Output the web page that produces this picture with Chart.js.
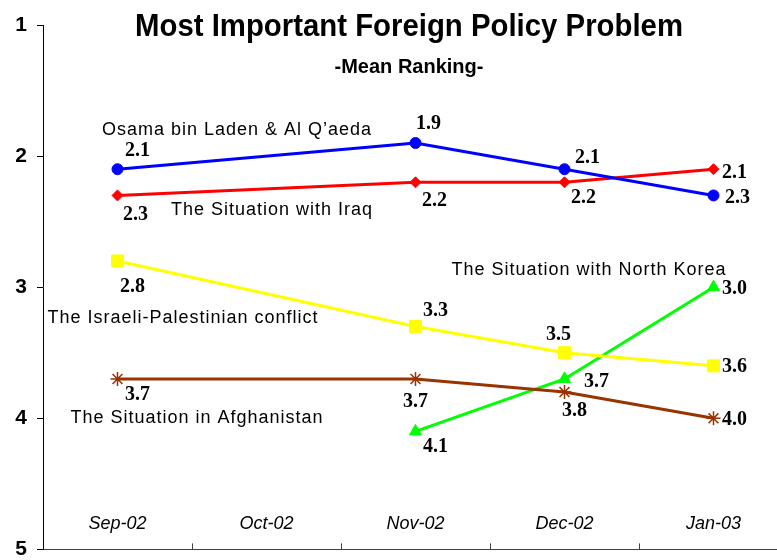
<!DOCTYPE html>
<html>
<head>
<meta charset="utf-8">
<script src="https://cdn.jsdelivr.net/npm/chart.js@4/dist/chart.umd.min.js"></script>
<style>
  html, body { margin: 0; padding: 0; background: #fff; overflow: hidden; }
  #wrap { width: 800px; height: 572px; }
</style>
</head>
<body>
<div id="wrap"><canvas id="myChart" width="800" height="572"></canvas></div>
<script>
const months = ['Sep-02', 'Oct-02', 'Nov-02', 'Dec-02', 'Jan-03'];
const osama = [2.1, null, 1.9, 2.1, 2.3];
const iraq = [2.3, null, 2.2, 2.2, 2.1];
const israeli = [2.8, null, 3.3, 3.5, 3.6];
const afghanistan = [3.7, null, 3.7, 3.8, 4.0];
const northKorea = [null, null, 4.1, 3.7, 3.0];
const rankTicks = [1, 2, 3, 4, 5];

// where each value label sits, relative to its point
const labelOffsets = [
  [[20, -18], null, [13, -19], [23, -11], [24, 2]],
  [[18, 19], null, [19, 19], [19, 16], [21, 4]],
  [[15, 26], null, [20, -16], [-6, -18], [21, 1]],
  [[20, 16], null, [0, 23], [10, 19], [21, 2]],
  [null, null, [20, 15], [32, 3], [21, 2]]
];

// series names written on the plot
const seriesNotes = [
  { text: 'Osama bin Laden & Al Q\u2019aeda', x: 237, y: 130 },
  { text: 'The Situation with Iraq', x: 272, y: 210 },
  { text: 'The Israeli-Palestinian conflict', x: 183, y: 318 },
  { text: 'The Situation in Afghanistan', x: 197, y: 418 },
  { text: 'The Situation with North Korea', x: 589, y: 270 }
];

const sans = "'Liberation Sans', Arial, sans-serif";
const serif = "'Liberation Serif', 'Times New Roman', serif";

const textPlugin = {
  id: 'textPlugin',
  afterDraw(chart) {
    const c = chart.ctx;
    const xs = chart.scales.x;
    const area = chart.chartArea;
    c.save();

    // small inside tick marks between the months
    c.strokeStyle = '#404040';
    c.lineWidth = 1;
    for (let i = 0; i < months.length - 1; i++) {
      const x = Math.round((xs.getPixelForValue(i) + xs.getPixelForValue(i + 1)) / 2) + 0.5;
      c.beginPath();
      c.moveTo(x, area.bottom - 6);
      c.lineTo(x, area.bottom);
      c.stroke();
    }

    c.fillStyle = '#000';
    c.textAlign = 'center';
    c.textBaseline = 'middle';

    // month labels sit inside the plot, above the axis
    c.font = 'italic 18px ' + sans;
    months.forEach((m, i) => c.fillText(m, xs.getPixelForValue(i), area.bottom - 25));

    c.textBaseline = 'alphabetic';
    c.font = 'bold 32px ' + sans;
    c.fillText('Most Important Foreign Policy Problem', 409, 36, 548);
    c.font = 'bold 20px ' + sans;
    c.fillText('-Mean Ranking-', 409, 73);

    c.textBaseline = 'middle';
    c.font = '18px ' + sans;
    c.letterSpacing = '1px';
    seriesNotes.forEach(n => c.fillText(n.text, n.x, n.y));
    c.letterSpacing = '0px';

    c.font = 'bold 20px ' + serif;
    chart.data.datasets.forEach((ds, di) => {
      const meta = chart.getDatasetMeta(di);
      ds.data.forEach((v, i) => {
        const off = labelOffsets[di][i];
        if (v === null || !off) return;
        const p = meta.data[i];
        c.fillText(v.toFixed(1), p.x + off[0], p.y + off[1]);
      });
    });
    c.restore();
  }
};

function series(label, data, color, style, radius) {
  return {
    label: label,
    data: data,
    borderColor: color,
    backgroundColor: color,
    borderWidth: 3,
    pointStyle: style,
    pointRadius: radius,
    pointHoverRadius: radius,
    pointBorderWidth: style === 'star' ? 1.5 : 1,
    tension: 0,
    spanGaps: true
  };
}

new Chart(document.getElementById('myChart').getContext('2d'), {
  type: 'line',
  data: {
    labels: months,
    datasets: [
      series('Osama bin Laden & Al Q\u2019aeda', osama, '#0000FF', 'circle', 5.5),
      series('The Situation with Iraq', iraq, '#FF0000', 'rectRot', 5.5),
      series('The Israeli-Palestinian conflict', israeli, '#FFFF00', 'rect', 8.5),
      series('The Situation in Afghanistan', afghanistan, '#993300', 'star', 7),
      series('The Situation with North Korea', northKorea, '#00FF00', 'triangle', 7)
    ]
  },
  options: {
    responsive: false,
    animation: false,
    events: [],
    layout: { padding: { left: 0, top: 25, right: 12, bottom: 11 } },
    plugins: {
      legend: { display: false },
      title: { display: false },
      tooltip: { enabled: false }
    },
    scales: {
      x: {
        offset: true,
        grid: { display: false },
        border: { color: '#404040', width: 1 },
        ticks: { display: false },
        afterFit(s) { s.height = 0; }
      },
      y: {
        reverse: true,
        min: 1,
        max: 5,
        afterBuildTicks(s) { s.ticks = rankTicks.map(v => ({ value: v })); },
        grid: { drawOnChartArea: false, tickLength: 6, color: '#000' },
        border: { color: '#000', width: 1 },
        ticks: {
          color: '#000',
          padding: 10,
          font: { family: sans, size: 21, weight: 'bold' }
        },
        afterFit(s) { s.width = 43; }
      }
    }
  },
  plugins: [textPlugin]
});
</script>
</body>
</html>
